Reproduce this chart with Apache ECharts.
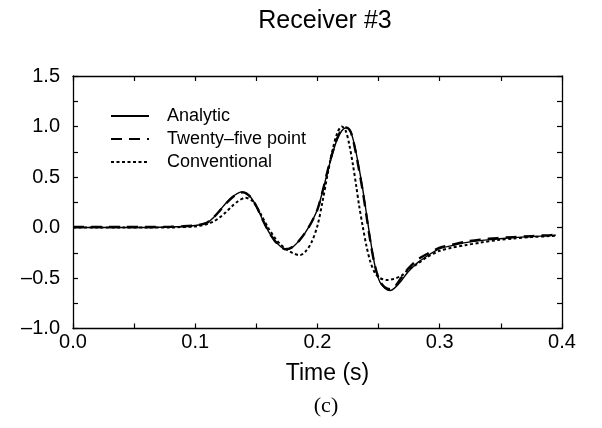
<!DOCTYPE html>
<html>
<head>
<meta charset="utf-8">
<script src="https://cdn.jsdelivr.net/npm/echarts@6/dist/echarts.min.js"></script>
<style>html,body{margin:0;padding:0;background:#fff}#c{width:602px;height:428px}</style>
</head>
<body>
<div id="c"></div>
<script>
var analyticT = [0, 0.02, 0.04, 0.06, 0.08, 0.09, 0.1, 0.105, 0.11, 0.115, 0.12, 0.125, 0.13, 0.135, 0.1385, 0.142, 0.146, 0.15, 0.155, 0.16, 0.165, 0.17, 0.1735, 0.177, 0.181, 0.185, 0.19, 0.195, 0.2, 0.204, 0.208, 0.212, 0.216, 0.22, 0.2238, 0.227, 0.23, 0.2335, 0.237, 0.24, 0.243, 0.247, 0.251, 0.255, 0.2593, 0.263, 0.2684, 0.274, 0.2817, 0.29, 0.3, 0.31, 0.321, 0.333, 0.347, 0.36, 0.375, 0.39, 0.395];
var analyticV = [0, 0, 0, 0, 0.005, 0.01, 0.02, 0.03, 0.05, 0.1, 0.17, 0.24, 0.3, 0.34, 0.353, 0.34, 0.29, 0.21, 0.08, -0.04, -0.13, -0.19, -0.215, -0.21, -0.18, -0.13, -0.05, 0.05, 0.18, 0.35, 0.54, 0.72, 0.87, 0.96, 0.987, 0.95, 0.83, 0.62, 0.38, 0.14, -0.1, -0.38, -0.54, -0.6, -0.624, -0.6, -0.53, -0.44, -0.35, -0.28, -0.21, -0.18, -0.15, -0.13, -0.115, -0.1, -0.09, -0.08, -0.075];

var twentyFiveT = [0, 0.02, 0.04, 0.06, 0.08, 0.09, 0.1, 0.105, 0.11, 0.115, 0.12, 0.125, 0.13, 0.135, 0.1385, 0.142, 0.146, 0.15, 0.155, 0.16, 0.165, 0.17, 0.1735, 0.177, 0.181, 0.185, 0.19, 0.195, 0.2, 0.204, 0.208, 0.212, 0.216, 0.22, 0.2235, 0.227, 0.23, 0.2335, 0.237, 0.24, 0.243, 0.247, 0.251, 0.255, 0.2593, 0.263, 0.2684, 0.274, 0.2817, 0.29, 0.3, 0.31, 0.321, 0.333, 0.347, 0.36, 0.375, 0.39, 0.395];
var twentyFiveV = [0.005, 0.005, 0.005, 0.005, 0.008, 0.012, 0.02, 0.03, 0.05, 0.1, 0.165, 0.235, 0.295, 0.335, 0.348, 0.335, 0.29, 0.21, 0.08, -0.04, -0.13, -0.19, -0.215, -0.21, -0.18, -0.13, -0.05, 0.05, 0.18, 0.35, 0.55, 0.73, 0.88, 0.97, 0.99, 0.95, 0.82, 0.6, 0.36, 0.12, -0.12, -0.38, -0.53, -0.59, -0.61, -0.59, -0.5, -0.41, -0.32, -0.26, -0.2, -0.17, -0.14, -0.12, -0.105, -0.095, -0.085, -0.075, -0.07];

var conventionalT = [0, 0.02, 0.04, 0.06, 0.08, 0.09, 0.1, 0.105, 0.11, 0.115, 0.12, 0.125, 0.13, 0.135, 0.141, 0.146, 0.15, 0.155, 0.16, 0.165, 0.17, 0.175, 0.18, 0.1855, 0.19, 0.195, 0.2, 0.204, 0.208, 0.212, 0.216, 0.2198, 0.223, 0.226, 0.229, 0.2317, 0.234, 0.237, 0.24, 0.243, 0.247, 0.251, 0.2566, 0.262, 0.2684, 0.274, 0.2817, 0.29, 0.3, 0.31, 0.321, 0.333, 0.347, 0.36, 0.375, 0.39, 0.395];
var conventionalV = [0, 0, 0, 0, 0, 0.005, 0.01, 0.02, 0.035, 0.06, 0.1, 0.15, 0.21, 0.26, 0.294, 0.27, 0.21, 0.1, -0.01, -0.1, -0.17, -0.22, -0.255, -0.274, -0.24, -0.15, 0.02, 0.25, 0.51, 0.75, 0.93, 1.0, 0.96, 0.82, 0.62, 0.41, 0.22, 0.01, -0.18, -0.33, -0.45, -0.5, -0.52, -0.51, -0.48, -0.42, -0.36, -0.29, -0.23, -0.2, -0.175, -0.15, -0.125, -0.11, -0.095, -0.085, -0.08];

var seriesNames = ['Analytic', 'Twenty\u2013five point', 'Conventional'];
var chartTitle = 'Receiver #3';
var xAxisTitle = 'Time (s)';
var panelLabel = '(c)';
var xTickLabels = ['0.0', '0.1', '0.2', '0.3', '0.4'];
var yTickLabels = ['\u20131.0', '\u20130.5', '0.0', '0.5', '1.0', '1.5'];

function pairs(t, v) { return t.map(function (x, i) { return [x, v[i]]; }); }

var chart = echarts.init(document.getElementById('c'), null, {renderer: 'canvas'});
var axisLine = {show: true, onZero: false, lineStyle: {color: '#000', width: 1.3}};
var tick = {show: true, inside: true, length: 5, lineStyle: {color: '#000', width: 1.2}};
var font = 'Liberation Sans, Arial, sans-serif';

function xLabel(v) {
  var k = Math.round(v / 0.05);
  return k % 2 === 0 ? xTickLabels[k / 2] : '';
}
function yLabel(v) {
  var k = Math.round((v + 1) / 0.25);
  return k % 2 === 0 ? yTickLabels[k / 2] : '';
}

chart.setOption({
  animation: false,
  backgroundColor: '#fff',
  title: {
    text: chartTitle, left: 325, top: 9, textAlign: 'center', padding: 0,
    textStyle: {fontFamily: font, fontSize: 25, fontWeight: 'normal', color: '#000'}
  },
  graphic: [{
    type: 'text', x: 326, y: 406,
    style: {text: panelLabel, font: '22px "Liberation Serif", serif', fill: '#000',
            textAlign: 'center', textVerticalAlign: 'middle'}
  }],
  legend: {
    orient: 'vertical', left: 110, top: 107, padding: 0,
    itemWidth: 38, itemHeight: 14, itemGap: 5,
    itemStyle: {opacity: 0},
    textStyle: {fontFamily: font, fontSize: 18, color: '#000', padding: [0, 0, 0, 13]},
    data: seriesNames
  },
  grid: {left: 73, right: 40, top: 76, bottom: 99.5, containLabel: false},
  xAxis: [{
    type: 'value', min: 0, max: 0.4, interval: 0.05,
    axisLine: axisLine, splitLine: {show: false}, axisTick: tick,
    axisLabel: {formatter: xLabel, fontFamily: font, fontSize: 20, color: '#000', margin: 4},
    name: xAxisTitle, nameLocation: 'middle', nameGap: 34,
    nameTextStyle: {fontFamily: font, fontSize: 23, color: '#000', padding: [0, 0, 0, 20]}
  }, {
    type: 'value', min: 0, max: 0.4, interval: 0.05, position: 'top',
    axisLine: axisLine, splitLine: {show: false}, axisTick: tick,
    axisLabel: {show: false}
  }],
  yAxis: [{
    type: 'value', min: -1, max: 1.5, interval: 0.25,
    axisLine: axisLine, splitLine: {show: false}, axisTick: tick,
    axisLabel: {formatter: yLabel, fontFamily: font, fontSize: 20, color: '#000', margin: 13}
  }, {
    type: 'value', min: -1, max: 1.5, interval: 0.25, position: 'right',
    axisLine: axisLine, splitLine: {show: false}, axisTick: tick,
    axisLabel: {show: false}
  }],
  series: [{
    name: seriesNames[0], type: 'line', smooth: 0.3, symbol: 'none',
    lineStyle: {color: '#000', width: 1.4, type: 'solid'},
    itemStyle: {color: '#000'},
    data: pairs(analyticT, analyticV), z: 3
  }, {
    name: seriesNames[1], type: 'line', smooth: 0.3, symbol: 'none',
    lineStyle: {color: '#000', width: 2.4, type: [11, 7]},
    itemStyle: {color: '#000'},
    data: pairs(twentyFiveT, twentyFiveV), z: 2
  }, {
    name: seriesNames[2], type: 'line', smooth: 0.3, symbol: 'none',
    lineStyle: {color: '#000', width: 2, type: [3, 2.5]},
    itemStyle: {color: '#000'},
    data: pairs(conventionalT, conventionalV), z: 1
  }]
});
</script>
</body>
</html>
